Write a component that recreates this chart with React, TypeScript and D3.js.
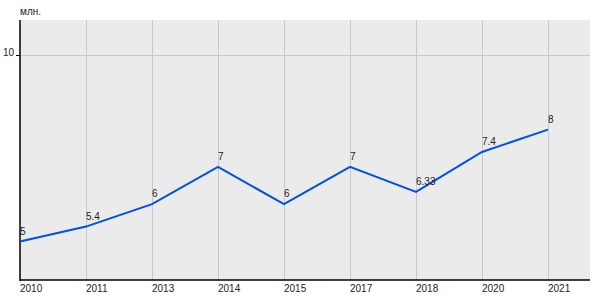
import React from "react";
import * as d3 from "d3";

const years = ["2010", "2011", "2013", "2014", "2015", "2017", "2018", "2020", "2021"];
const values = [5, 5.4, 6, 7, 6, 7, 6.33, 7.4, 8];
const valueLabels = ["5", "5.4", "6", "7", "6", "7", "6.33", "7.4", "8"];
const yTicks = [10];
const unitLabel = "млн.";

const W = 600;
const H = 300;
const left = 20;
const right = 590;
const top = 20;
const bottom = 280;

export default function App() {
  const x = d3.scalePoint<string>().domain(years).range([left, 548]);
  const y = d3.scaleLinear().domain([3.968, 10.938]).range([bottom, top]);
  const line = d3
    .line<number>()
    .x((_, i) => x(years[i]) as number)
    .y((d) => y(d));
  const font = "'Liberation Sans', Arial, sans-serif";
  const crisp = (v: number) => Math.round(v) + 0.5;
  return (
    <svg
      width={W}
      height={H}
      style={{ position: "absolute", left: 0, top: 0, fontFamily: font }}
    >
      <rect x={0} y={0} width={W} height={H} fill="#ffffff" />
      <rect x={left} y={top} width={right - left} height={bottom - top} fill="#ebebeb" />
      {years.map((yr, i) =>
        i === 0 ? null : (
          <line
            key={yr}
            x1={crisp(x(yr) as number)}
            x2={crisp(x(yr) as number)}
            y1={top}
            y2={bottom}
            stroke="#c8c8c8"
            strokeWidth={1}
          />
        )
      )}
      {yTicks.map((t) => (
        <g key={t}>
          <line x1={left} x2={right} y1={crisp(y(t))} y2={crisp(y(t))} stroke="#c8c8c8" strokeWidth={1} />
          <line x1={left - 4} x2={left} y1={crisp(y(t))} y2={crisp(y(t))} stroke="#000" strokeWidth={1} />
          <text x={14} y={crisp(y(t))} textAnchor="end" fontSize={10} fill="#222">
            {t}
          </text>
        </g>
      ))}
      <line x1={left} x2={left} y1={top} y2={bottom + 1} stroke="#000" strokeWidth={1.5} />
      <line x1={left} x2={right} y1={bottom} y2={bottom} stroke="#000" strokeWidth={1.5} />
      {years.map((yr) => (
        <text key={yr} x={x(yr)} y={292} fontSize={10} fill="#222">
          {yr}
        </text>
      ))}
      <text x={20} y={15} fontSize={10} fill="#222">
        {unitLabel}
      </text>
      <path d={line(values) || ""} fill="none" stroke="#0050e6" strokeWidth={2} />
      {values.map((v, i) => (
        <text key={i} x={x(years[i])} y={y(v) - 7} fontSize={10} fill="#222">
          {valueLabels[i]}
        </text>
      ))}
    </svg>
  );
}
